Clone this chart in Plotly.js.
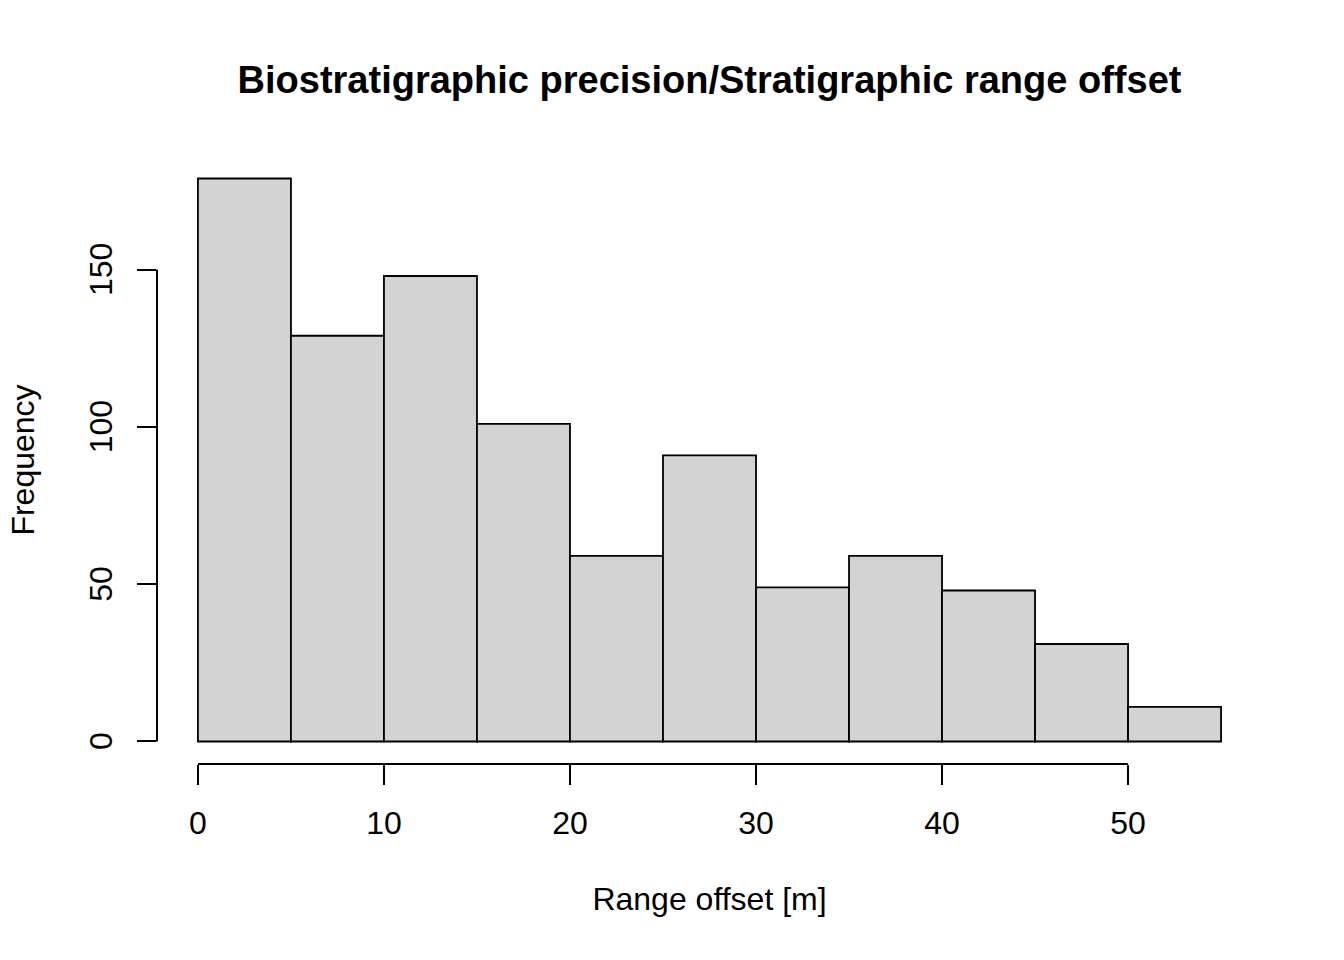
<!DOCTYPE html>
<html>
<head>
<meta charset="utf-8">
<script src="https://cdn.plot.ly/plotly-3.0.1.min.js"></script>
<style>html,body{margin:0;padding:0;background:#fff}#chart{width:1344px;height:960px}</style>
</head>
<body>
<div id="chart"></div>
<script>
const binStarts = [0, 5, 10, 15, 20, 25, 30, 35, 40, 45, 50];
const binWidth = 5;
const counts = [179, 129, 148, 101, 59, 91, 49, 59, 48, 31, 11];
const xTicks = [0, 10, 20, 30, 40, 50];
const yTicks = [0, 50, 100, 150];

const centers = binStarts.map(s => s + binWidth / 2);
const font = "Liberation Sans, Arial, sans-serif";
const fs = 32;

const trace = {
  type: 'bar',
  x: centers,
  y: counts,
  width: binStarts.map(() => binWidth),
  marker: {color: '#D3D3D3', line: {color: '#000', width: 1.8}},
  hoverinfo: 'x+y'
};

const layout = {
  width: 1344, height: 960,
  margin: {l: 157, r: 82, t: 156, b: 196},
  paper_bgcolor: '#fff', plot_bgcolor: '#fff',
  showlegend: false,
  bargap: 0,
  font: {family: font, color: '#000', size: fs},
  title: {
    text: '<b>Biostratigraphic precision/Stratigraphic range offset</b>',
    font: {family: font, size: 38, color: '#000'},
    x: 0.5, xanchor: 'center', xref: 'paper',
    y: 1 - 80/960, yanchor: 'middle', yref: 'container'
  },
  xaxis: {
    range: [-2.2, 57.2], showgrid: false, zeroline: false, showline: false,
    tickmode: 'array', tickvals: xTicks, ticktext: xTicks.map(String),
    ticks: 'outside', ticklen: 20, tickwidth: 2, tickcolor: '#000',
    tickfont: {family: font, size: fs, color: '#000'},
    ticklabelstandoff: 11,
    title: {text: 'Range offset [m]', font: {family: font, size: fs, color: '#000'}, standoff: 47},
    automargin: false
  },
  yaxis: {
    range: [-7.16, 186.16], showgrid: false, zeroline: false, showline: false,
    tickmode: 'array', tickvals: yTicks, ticktext: yTicks.map(v => String(v) + '\u00a0'),
    ticks: 'outside', ticklen: 19, tickwidth: 2, tickcolor: '#000',
    tickangle: -90,
    tickfont: {family: font, size: fs, color: '#000'},
    ticklabelstandoff: 12,
    title: {text: 'Frequency', font: {family: font, size: fs, color: '#000'}, standoff: 39},
    automargin: false
  },
  shapes: [
    {type: 'line', xref: 'x', yref: 'paper', x0: xTicks[0], x1: xTicks[xTicks.length-1], y0: 0, y1: 0, line: {color: '#000', width: 2}},
    {type: 'line', xref: 'paper', yref: 'y', x0: 0, x1: 0, y0: yTicks[0], y1: yTicks[yTicks.length-1], line: {color: '#000', width: 2}}
  ]
};

Plotly.newPlot('chart', [trace], layout, {displayModeBar: false, staticPlot: true});
</script>
</body>
</html>
